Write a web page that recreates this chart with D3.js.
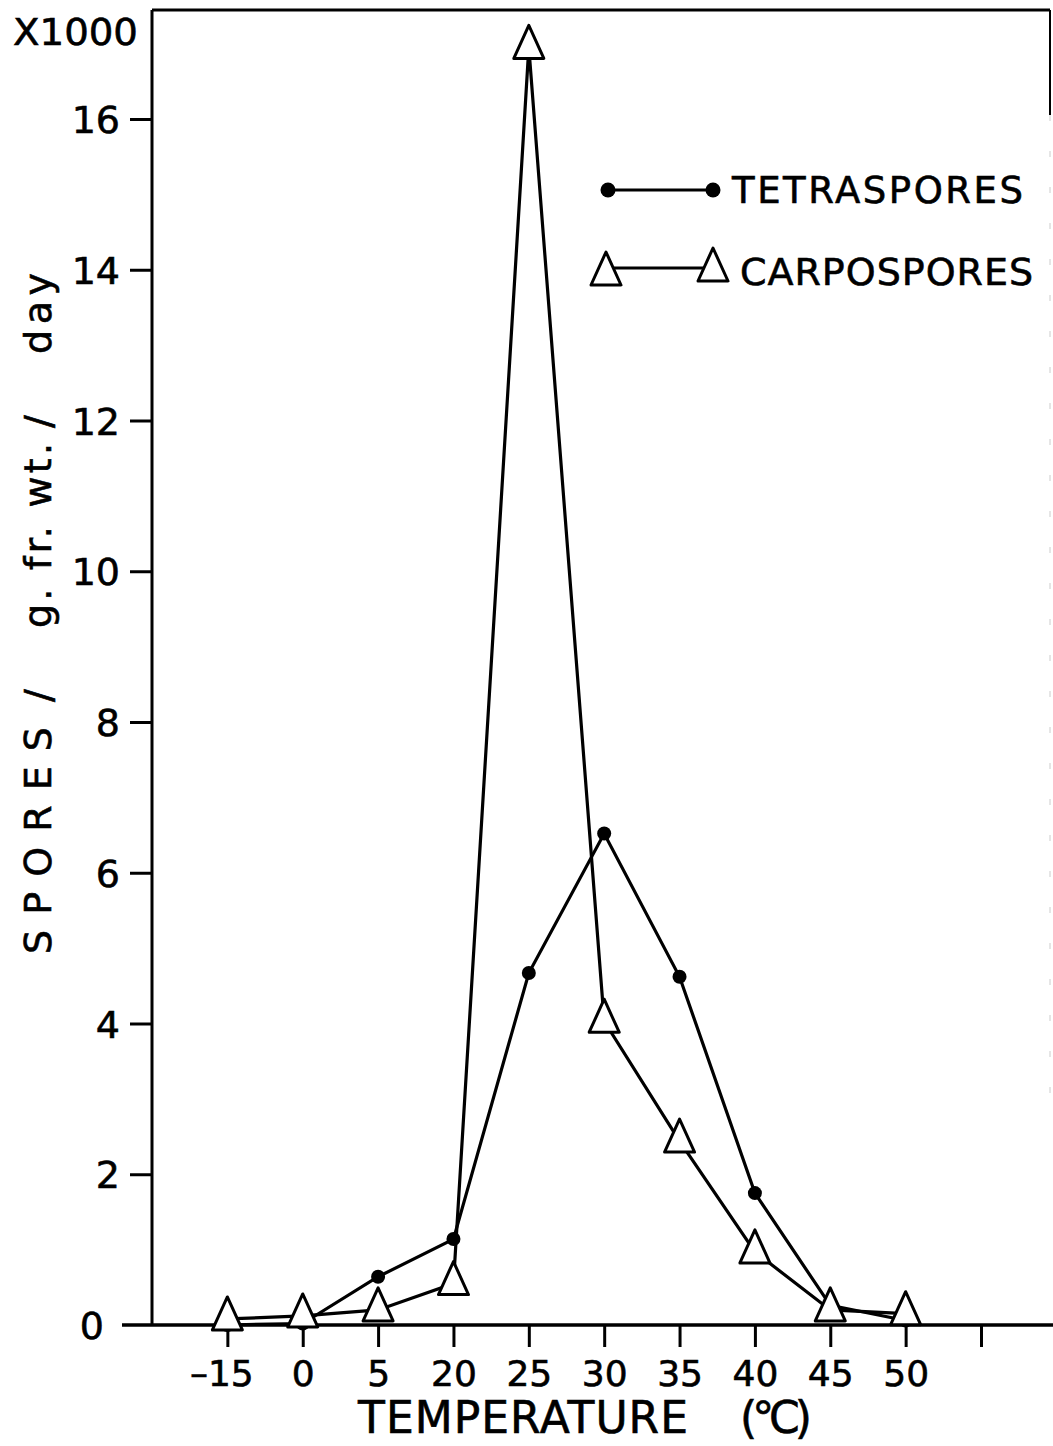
<!DOCTYPE html>
<html><head><meta charset="utf-8">
<script src="https://cdn.jsdelivr.net/npm/d3@7"></script>
<style>
html,body{margin:0;padding:0;background:#fff;}
svg text{font-family:"DejaVu Sans",sans-serif;fill:#000;}
</style></head>
<body>
<svg id="chart" width="1053" height="1446"></svg>
<script>
const categories = ["–15","0","5","20","25","30","35","40","45","50"];
const tetraspores = [0, 0.02, 0.64, 1.14, 4.67, 6.52, 4.62, 1.75, 0.26, 0.06];
const carpospores = [0.08, 0.12, 0.2, 0.55, 16.95, 4.03, 2.44, 0.97, 0.2, 0.15];
const yTicks = [0,2,4,6,8,10,12,14,16];
const yTitleParts = [
  {t:"SPORES", y0:954, y1:727},
  {t:"/", y0:702, y1:677},
  {t:"g. fr. wt.", y0:628, y1:443},
  {t:"/", y0:428, y1:397},
  {t:"day", y0:354, y1:273}
];

const svg = d3.select("#chart");
const x = d3.scaleLinear().domain([-1, 10]).range([152, 981]);
const y = d3.scaleLinear().domain([0, 16]).range([1325, 119]);
const ink = "#000";

// frame lines
svg.append("line").attr("x1",152).attr("x2",1050).attr("y1",10).attr("y2",10).attr("stroke",ink).attr("stroke-width",3);
svg.append("line").attr("x1",1050).attr("x2",1050).attr("y1",10).attr("y2",115).attr("stroke",ink).attr("stroke-width",2);
svg.append("line").attr("x1",1050).attr("x2",1050).attr("y1",115).attr("y2",1100).attr("stroke","#ccc").attr("stroke-width",1).attr("stroke-dasharray","6 30");

// y axis
const yAxis = d3.axisLeft(y).tickValues(yTicks).tickSize(22).tickPadding(10).tickFormat(d=>String(d));
const gy = svg.append("g").attr("transform","translate(152,0)").call(yAxis);
gy.select(".domain").remove();
gy.selectAll(".tick line").attr("stroke",ink).attr("stroke-width",3);
gy.selectAll(".tick text").attr("font-size",38).attr("dy","0.36em").attr("fill",ink)
  .attr("stroke",ink).attr("stroke-width",0.6);
gy.selectAll(".tick").filter(d=>d===0).select("line").remove();
gy.selectAll(".tick").filter(d=>d===0).select("text").attr("x",-48);
svg.append("line").attr("x1",152).attr("x2",152).attr("y1",10).attr("y2",1326).attr("stroke",ink).attr("stroke-width",3);

// x axis
const xAxis = d3.axisBottom(x).tickValues(d3.range(0, 11)).tickSize(22).tickPadding(13)
  .tickFormat(i => categories[i] !== undefined ? categories[i] : "");
const gx = svg.append("g").attr("transform","translate(0,1325)").call(xAxis);
gx.select(".domain").remove();
gx.selectAll(".tick line").attr("stroke",ink).attr("stroke-width",3);
gx.selectAll(".tick text").attr("font-size",36).attr("fill",ink).attr("dy","0.71em")
  .attr("stroke",ink).attr("stroke-width",0.6);
gx.selectAll(".tick").filter(i=>i===0).select("text").attr("x",-6);
svg.append("line").attr("x1",122).attr("x2",1053).attr("y1",1325).attr("y2",1325).attr("stroke",ink).attr("stroke-width",3.5);

// axis labels
svg.append("text").attr("x",13).attr("y",45).attr("font-size",37).attr("textLength",125).attr("lengthAdjust","spacingAndGlyphs")
  .attr("stroke",ink).attr("stroke-width",0.6).text("X1000");
yTitleParts.forEach(p=>{
  svg.append("text").attr("transform",`translate(51,${p.y0}) rotate(-90)`)
    .attr("font-size",38).attr("textLength",p.y0-p.y1).attr("lengthAdjust","spacing")
    .attr("stroke",ink).attr("stroke-width",0.6).text(p.t);
});
svg.append("text").attr("x",358).attr("y",1433).attr("font-size",44).attr("textLength",330).attr("lengthAdjust","spacing")
  .attr("stroke",ink).attr("stroke-width",0.6).text("TEMPERATURE");
svg.append("text").attr("x",740).attr("y",1433).attr("font-size",44).attr("textLength",72).attr("lengthAdjust","spacing")
  .attr("stroke",ink).attr("stroke-width",0.6).text("(°C)");

// series
const line = d3.line().x((d,i)=>x(i)).y(d=>y(d));
svg.append("path").datum(tetraspores).attr("d",line).attr("fill","none").attr("stroke",ink).attr("stroke-width",3.2);
svg.append("path").datum(carpospores).attr("d",line).attr("fill","none").attr("stroke",ink).attr("stroke-width",3.2);

svg.selectAll("circle.tetra").data(tetraspores).join("circle").attr("class","tetra")
  .attr("cx",(d,i)=>x(i)).attr("cy",d=>y(d)).attr("r",7).attr("fill",ink);

const tri = "M0,-22 L15,11 L-15,11 Z";
svg.selectAll("path.carpo").data(carpospores).join("path").attr("class","carpo")
  .attr("transform",(d,i)=>`translate(${x(i)},${y(d)})`).attr("d",tri)
  .attr("fill","#fff").attr("stroke",ink).attr("stroke-width",3).attr("stroke-linejoin","round");

// legend
const lg = svg.append("g");
lg.append("line").attr("x1",608).attr("x2",713).attr("y1",190).attr("y2",190).attr("stroke",ink).attr("stroke-width",3);
lg.append("circle").attr("cx",608).attr("cy",190).attr("r",7.5).attr("fill",ink);
lg.append("circle").attr("cx",713).attr("cy",190).attr("r",7.5).attr("fill",ink);
lg.append("text").attr("x",732).attr("y",203).attr("font-size",37).attr("textLength",291).attr("lengthAdjust","spacing")
  .attr("stroke",ink).attr("stroke-width",0.6).text("TETRASPORES");
lg.append("line").attr("x1",612).attr("x2",705).attr("y1",268).attr("y2",268).attr("stroke",ink).attr("stroke-width",3);
lg.append("path").attr("transform","translate(606,274)").attr("d",tri).attr("fill","#fff").attr("stroke",ink).attr("stroke-width",3).attr("stroke-linejoin","round");
lg.append("path").attr("transform","translate(713,270)").attr("d",tri).attr("fill","#fff").attr("stroke",ink).attr("stroke-width",3).attr("stroke-linejoin","round");
lg.append("text").attr("x",740).attr("y",285).attr("font-size",38).attr("textLength",293).attr("lengthAdjust","spacing")
  .attr("stroke",ink).attr("stroke-width",0.6).text("CARPOSPORES");
</script>
</body></html>
